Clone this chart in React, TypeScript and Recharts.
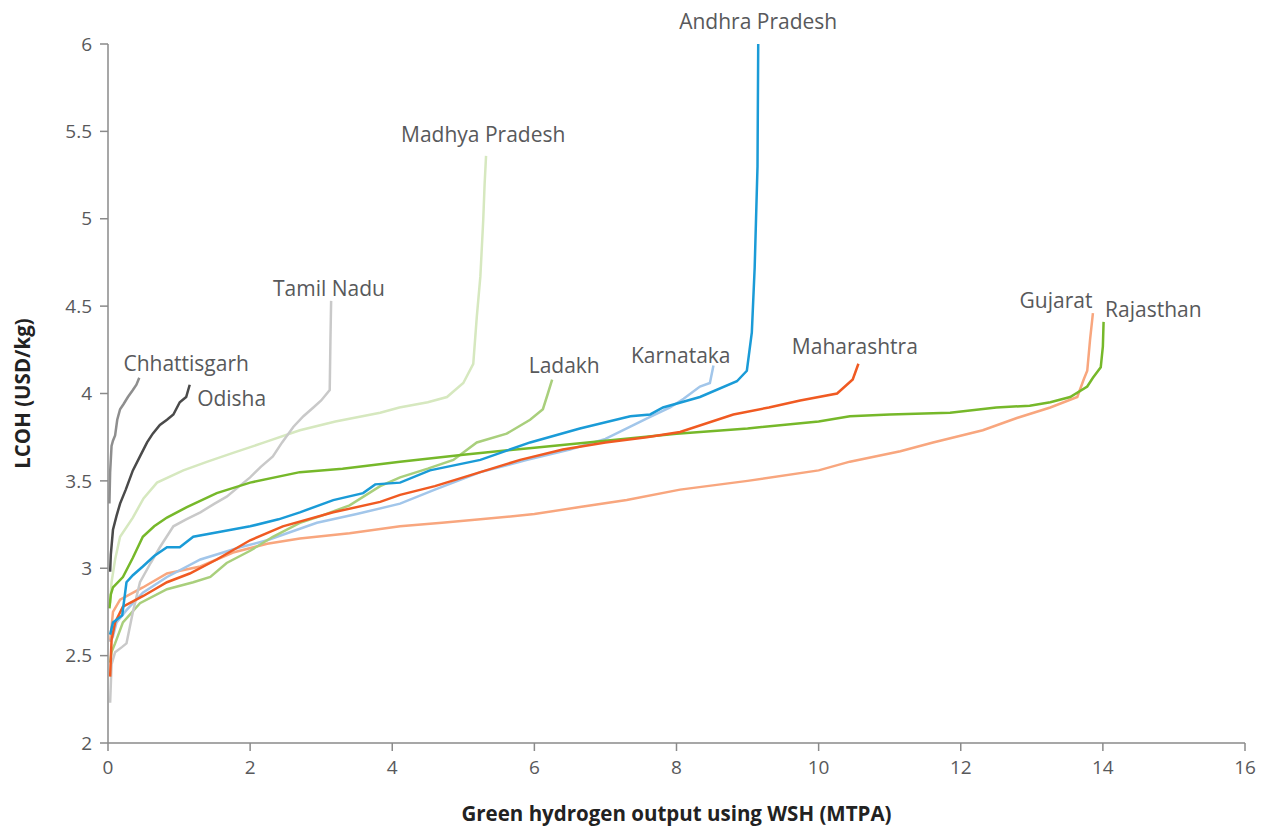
import React from 'react';
import { LineChart, Line, XAxis, YAxis, ReferenceDot, Label } from 'recharts';

// ---- Data (x: MTPA cumulative output, y: LCOH USD/kg) ----
const chhattisgarhX = [0.02, 0.03, 0.05, 0.07, 0.1, 0.13, 0.17, 0.22, 0.28, 0.35, 0.4, 0.44];
const chhattisgarhY = [3.37, 3.55, 3.7, 3.73, 3.76, 3.85, 3.91, 3.94, 3.98, 4.02, 4.05, 4.09];

const odishaX = [0.03, 0.04, 0.07, 0.12, 0.17, 0.25, 0.35, 0.45, 0.55, 0.63, 0.73, 0.83, 0.92, 1.01, 1.1, 1.15];
const odishaY = [2.98, 3.08, 3.22, 3.3, 3.37, 3.45, 3.56, 3.64, 3.72, 3.77, 3.82, 3.85, 3.88, 3.95, 3.98, 4.05];

const tamilNaduX = [0.03, 0.05, 0.1, 0.2, 0.26, 0.35, 0.45, 0.6, 0.73, 0.92, 1.1, 1.3, 1.5, 1.67, 1.85, 2.0, 2.15, 2.32, 2.45, 2.61, 2.75, 2.89, 3.0, 3.12, 3.13, 3.14];
const tamilNaduY = [2.23, 2.45, 2.52, 2.55, 2.57, 2.75, 2.92, 3.03, 3.12, 3.24, 3.28, 3.32, 3.37, 3.41, 3.47, 3.52, 3.58, 3.64, 3.72, 3.81, 3.87, 3.92, 3.96, 4.02, 4.3, 4.53];

const madhyaPradeshX = [0.03, 0.05, 0.1, 0.17, 0.35, 0.5, 0.69, 1.06, 1.4, 1.76, 2.2, 2.7, 3.2, 3.83, 4.1, 4.5, 4.77, 5.0, 5.14, 5.19, 5.24, 5.28, 5.3, 5.32];
const madhyaPradeshY = [2.8, 2.92, 3.05, 3.18, 3.29, 3.4, 3.49, 3.56, 3.61, 3.66, 3.72, 3.79, 3.84, 3.89, 3.92, 3.95, 3.98, 4.06, 4.17, 4.44, 4.67, 4.99, 5.2, 5.36];

const rajasthanX = [0.02, 0.04, 0.07, 0.21, 0.35, 0.49, 0.65, 0.83, 1.11, 1.53, 2.0, 2.7, 3.3, 4.11, 5.0, 6.0, 7.0, 8.0, 9.0, 10.0, 10.44, 11.0, 11.85, 12.5, 12.97, 13.26, 13.54, 13.78, 13.86, 13.97, 14.0, 14.01];
const rajasthanY = [2.77, 2.85, 2.89, 2.95, 3.06, 3.18, 3.24, 3.29, 3.35, 3.43, 3.49, 3.55, 3.57, 3.61, 3.65, 3.69, 3.73, 3.77, 3.8, 3.84, 3.87, 3.88, 3.89, 3.92, 3.93, 3.95, 3.98, 4.04, 4.09, 4.15, 4.27, 4.41];

const andhraPradeshX = [0.03, 0.07, 0.2, 0.26, 0.35, 0.49, 0.65, 0.83, 1.01, 1.2, 1.6, 2.0, 2.4, 2.7, 3.17, 3.59, 3.76, 4.11, 4.53, 5.24, 5.94, 6.64, 7.35, 7.63, 7.81, 8.33, 8.85, 8.99, 9.06, 9.1, 9.14, 9.15];
const andhraPradeshY = [2.62, 2.69, 2.73, 2.92, 2.96, 3.01, 3.07, 3.12, 3.12, 3.18, 3.21, 3.24, 3.28, 3.32, 3.39, 3.43, 3.48, 3.49, 3.56, 3.62, 3.72, 3.8, 3.87, 3.88, 3.92, 3.98, 4.07, 4.13, 4.35, 4.72, 5.3, 6.0];

const karnatakaX = [0.03, 0.07, 0.12, 0.26, 0.49, 0.83, 1.3, 1.86, 2.24, 2.94, 3.5, 4.11, 4.6, 5.24, 5.9, 6.5, 7.0, 7.35, 7.6, 7.91, 8.1, 8.33, 8.47, 8.52];
const karnatakaY = [2.58, 2.61, 2.69, 2.76, 2.86, 2.95, 3.05, 3.12, 3.16, 3.26, 3.31, 3.37, 3.45, 3.55, 3.62, 3.68, 3.74, 3.81, 3.86, 3.92, 3.97, 4.04, 4.06, 4.16];

const maharashtraX = [0.03, 0.05, 0.1, 0.21, 0.49, 0.83, 1.15, 1.53, 2.0, 2.46, 3.17, 3.83, 4.11, 4.6, 5.24, 5.8, 6.4, 7.0, 7.58, 8.05, 8.8, 9.3, 9.74, 10.26, 10.48, 10.56];
const maharashtraY = [2.38, 2.59, 2.69, 2.78, 2.84, 2.92, 2.97, 3.05, 3.16, 3.24, 3.32, 3.38, 3.42, 3.47, 3.55, 3.62, 3.68, 3.72, 3.75, 3.78, 3.88, 3.92, 3.96, 4.0, 4.08, 4.17];

const ladakhX = [0.03, 0.05, 0.1, 0.21, 0.45, 0.83, 1.2, 1.44, 1.67, 2.0, 2.32, 2.7, 3.0, 3.4, 3.83, 4.11, 4.5, 4.86, 5.19, 5.61, 5.94, 6.12, 6.19, 6.25];
const ladakhY = [2.46, 2.52, 2.57, 2.69, 2.8, 2.88, 2.92, 2.95, 3.03, 3.1, 3.18, 3.26, 3.3, 3.36, 3.47, 3.52, 3.57, 3.62, 3.72, 3.77, 3.85, 3.91, 4.0, 4.08];

const gujaratX = [0.03, 0.07, 0.17, 0.49, 0.83, 1.3, 1.76, 2.24, 2.7, 3.4, 4.11, 4.7, 5.24, 6.0, 6.64, 7.3, 8.05, 9.0, 10.0, 10.44, 11.15, 11.61, 12.31, 12.79, 13.26, 13.64, 13.73, 13.78, 13.82, 13.86];
const gujaratY = [2.58, 2.75, 2.82, 2.89, 2.97, 3.01, 3.09, 3.14, 3.17, 3.2, 3.24, 3.26, 3.28, 3.31, 3.35, 3.39, 3.45, 3.5, 3.56, 3.61, 3.67, 3.72, 3.79, 3.86, 3.92, 3.98, 4.08, 4.13, 4.31, 4.46];

const xTicks = [0, 2, 4, 6, 8, 10, 12, 14, 16];
const yTicks = [2, 2.5, 3, 3.5, 4, 4.5, 5, 5.5, 6];

// Series labels: name and label anchor in data coordinates
const labelNames = ['Andhra Pradesh', 'Madhya Pradesh', 'Tamil Nadu', 'Chhattisgarh', 'Odisha', 'Ladakh', 'Karnataka', 'Maharashtra', 'Gujarat', 'Rajasthan'];
const labelX = [9.15, 5.28, 3.11, 1.1, 1.74, 6.42, 8.06, 10.51, 13.34, 14.71];
const labelY = [6.13, 5.48, 4.6, 4.17, 3.97, 4.16, 4.22, 4.27, 4.53, 4.48];

const zip = (xs: number[], ys: number[]) => xs.map((x, i) => ({ x, y: ys[i] }));

const series = [
  { name: 'Gujarat', data: zip(gujaratX, gujaratY), color: '#f8a67e' },
  { name: 'Karnataka', data: zip(karnatakaX, karnatakaY), color: '#a2c6ea' },
  { name: 'Ladakh', data: zip(ladakhX, ladakhY), color: '#a9cf7c' },
  { name: 'Madhya Pradesh', data: zip(madhyaPradeshX, madhyaPradeshY), color: '#d6e8bf' },
  { name: 'Tamil Nadu', data: zip(tamilNaduX, tamilNaduY), color: '#c9c9c9' },
  { name: 'Chhattisgarh', data: zip(chhattisgarhX, chhattisgarhY), color: '#8e8e8e' },
  { name: 'Odisha', data: zip(odishaX, odishaY), color: '#4a4a4a' },
  { name: 'Rajasthan', data: zip(rajasthanX, rajasthanY), color: '#76b82a' },
  { name: 'Maharashtra', data: zip(maharashtraX, maharashtraY), color: '#f05a22' },
  { name: 'Andhra Pradesh', data: zip(andhraPradeshX, andhraPradeshY), color: '#1a9bd7' },
];

const FONT = '"Open Sans", sans-serif';
const AXIS = '#8a8a8a';
const TEXT = '#58595b';

export default function App() {
  return (
    <div style={{ width: 1254, height: 826, background: '#fff' }}>
      <LineChart width={1254} height={826} margin={{ top: 36, right: 17, left: 0, bottom: 11 }}>
        <XAxis
          type="number"
          dataKey="x"
          domain={[0, 16]}
          ticks={xTicks}
          allowDataOverflow
          height={80}
          tickSize={8}
          tickMargin={10}
          stroke={AXIS}
          strokeWidth={1.5}
          tick={{ fontSize: 19, fill: TEXT, fontFamily: FONT }}
        >
          <Label
            content={(props: any) => {
              const vb = props.viewBox;
              return (
                <text
                  x={vb.x + vb.width / 2}
                  y={vb.y + 78}
                  textAnchor="middle"
                  fontSize={20.5}
                  fontWeight={700}
                  fill="#222"
                  fontFamily={FONT}
                >
                  Green hydrogen output using WSH (MTPA)
                </text>
              );
            }}
          />
        </XAxis>
        <YAxis
          type="number"
          dataKey="y"
          domain={[2, 6]}
          ticks={yTicks}
          allowDataOverflow
          width={100}
          tickSize={8}
          tickMargin={8}
          stroke={AXIS}
          strokeWidth={1.5}
          tick={{ fontSize: 19, fill: TEXT, fontFamily: FONT }}
        >
          <Label
            content={(props: any) => {
              const vb = props.viewBox;
              const cx = 22;
              const cy = vb.y + vb.height / 2;
              return (
                <text
                  x={cx}
                  y={cy}
                  transform={`rotate(-90, ${cx}, ${cy})`}
                  textAnchor="middle"
                  fontSize={20.5}
                  fontWeight={700}
                  fill="#222"
                  fontFamily={FONT}
                >
                  LCOH (USD/kg)
                </text>
              );
            }}
          />
        </YAxis>
        {series.map((s) => (
          <Line
            key={s.name}
            data={s.data}
            dataKey="y"
            type="linear"
            stroke={s.color}
            strokeWidth={2.5}
            dot={false}
            activeDot={false}
            isAnimationActive={false}
          />
        ))}
        {labelNames.map((n, i) => (
          <ReferenceDot
            key={n}
            x={labelX[i]}
            y={labelY[i]}
            r={0}
            ifOverflow="visible"
            fill="none"
            stroke="none"
            label={{ value: n, position: 'center', fontSize: 21, fill: TEXT, fontFamily: FONT }}
          />
        ))}
      </LineChart>
    </div>
  );
}
